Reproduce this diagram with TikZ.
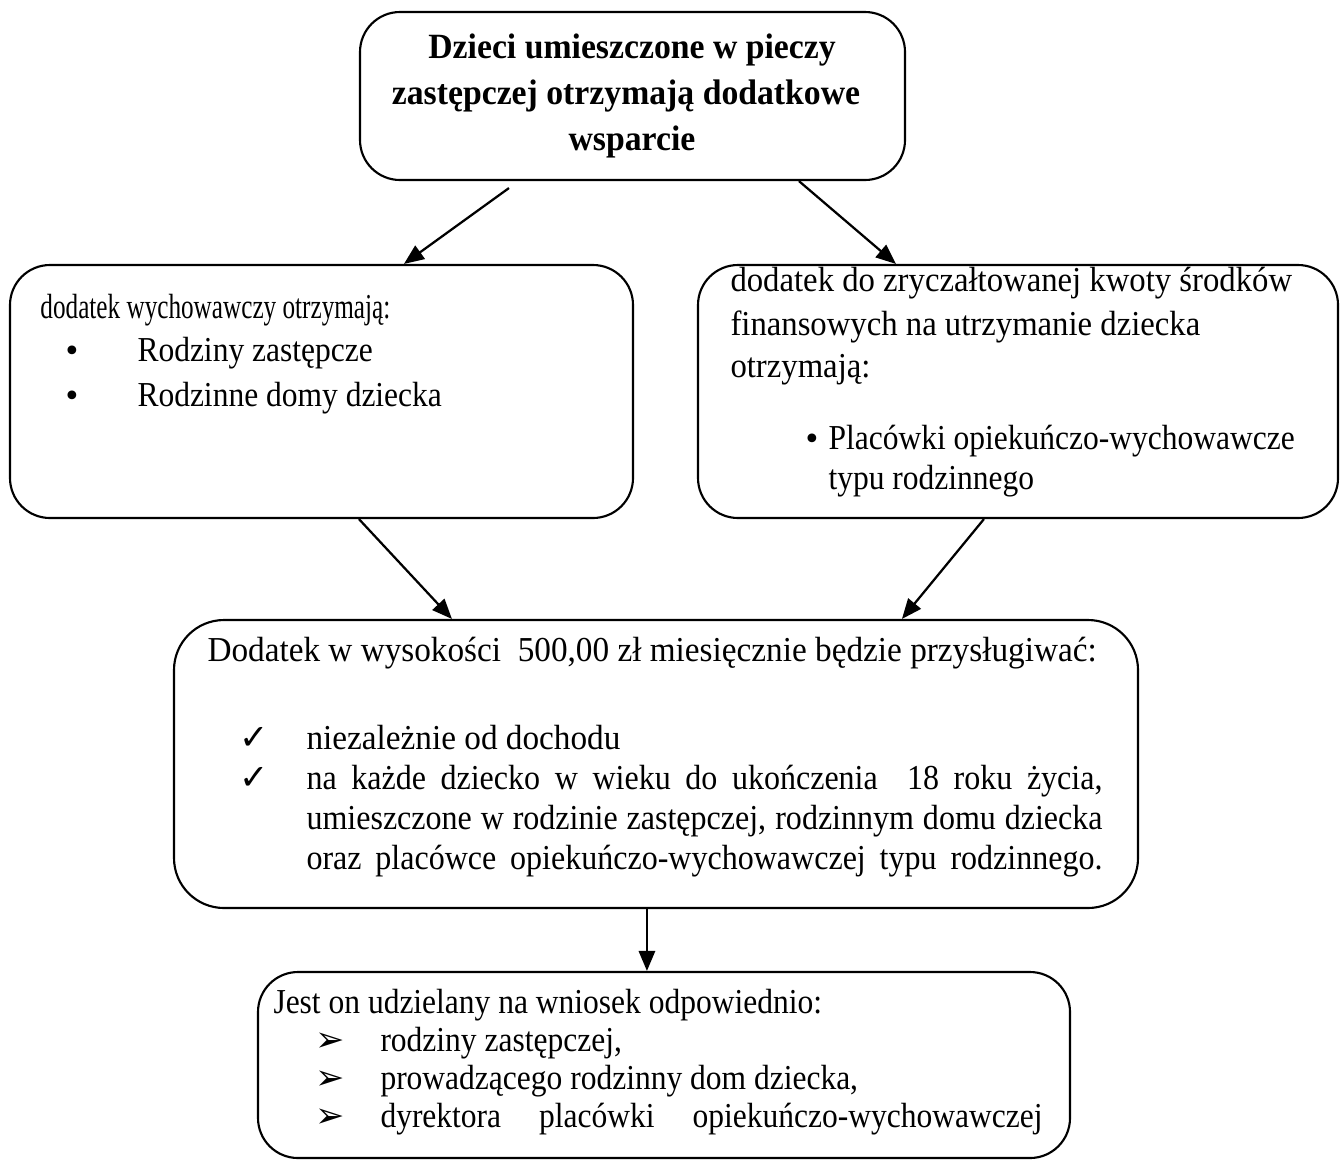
\documentclass[tikz,border=0pt]{standalone}
\usepackage{fontspec}
\setmainfont{Liberation Serif}[FakeStretch=0.90]
\newfontfamily\fLeadL{Liberation Serif}[FakeStretch=0.72]
\newfontfamily\fRight{Liberation Serif}[FakeStretch=0.935]
\newfontfamily\fMid{Liberation Serif}[FakeStretch=0.915]
\newfontfamily\fMidA{Liberation Serif}[FakeStretch=0.95]
\newfontfamily\fTop{Liberation Serif}[FakeStretch=0.95]
\newfontfamily\symfont{DejaVu Sans}
\usetikzlibrary{arrows.meta,fit,calc}
\begin{document}
\begin{tikzpicture}[x=0.4pt,y=-0.4pt,
  box/.style={draw, line width=0.85pt, rounded corners=16pt, inner sep=0pt},
  txt/.style={anchor=base west, inner sep=0pt, font=\fontsize{14}{16}\selectfont},
  rtxt/.style={txt, font=\fontsize{14}{16}\selectfont\fRight},
  mtxt/.style={txt, font=\fontsize{14}{16}\selectfont\fMid},
  matxt/.style={txt, font=\fontsize{14}{16}\selectfont\fMidA},
  btxt/.style={anchor=base, inner sep=0pt, font=\fontsize{14.2}{16}\selectfont\fTop\bfseries},
  sym/.style={anchor=base, inner sep=0pt, font=\fontsize{12}{14}\selectfont\symfont},
  chk/.style={anchor=base, inner sep=0pt, font=\fontsize{14}{16}\selectfont\symfont},
  arr/.style={-{Triangle[length=8pt,width=6.5pt]}, line width=0.9pt},
]
\useasboundingbox (0,0) rectangle (1344,1160);

% boxes
\node[box, fit={(360,12) (905,180)}] (top) {};
\node[box, fit={(10,265) (633,518)}] (left) {};
\node[box, fit={(698,265) (1338,518)}] (right) {};
\node[box, rounded corners=20pt, fit={(174,620) (1138,908)}] (mid) {};
\node[box, fit={(258,972) (1070,1158)}] (bot) {};

% top text
\node[btxt] (t1) at (632,58) {Dzieci umieszczone w pieczy};
\node[btxt] (t2) at (626,104) {zastępczej otrzymają dodatkowe};
\node[btxt] (t3) at (632,150) {wsparcie};

% left text
\node[txt, font=\fontsize{14}{16}\selectfont\fLeadL] (l1) at (40,318) {dodatek wychowawczy otrzymają:};
\node[sym] (lb1) at (72,361) {•};
\node[txt] (l2) at (137,361) {Rodziny zastępcze};
\node[sym] (lb2) at (72,406) {•};
\node[txt] (l3) at (137,406) {Rodzinne domy dziecka};

% right text
\node[rtxt] (r1) at (730,291) {dodatek do zryczałtowanej kwoty środków};
\node[rtxt] (r2) at (730,335) {finansowych na utrzymanie dziecka};
\node[rtxt] (r3) at (730,377) {otrzymają:};
\node[sym] (rb1) at (812,449) {•};
\node[txt] (r4) at (828,449) {Placówki opiekuńczo-wychowawcze};
\node[txt] (r5) at (828,489) {typu rodzinnego};

% middle text
\node[matxt] (m1) at (207,661) {Dodatek w wysokości\ \ 500,00 zł miesięcznie będzie przysługiwać:};
\node[chk] (mc1) at (254,749) {✓};
\node[matxt] (m2) at (306,749) {niezależnie od dochodu};
\node[chk] (mc2) at (254,789) {✓};
\node[mtxt] (m3) at (306,789) {\makebox[318.4pt][s]{na każde dziecko w wieku do ukończenia\ \ 18 roku życia,}};
\node[mtxt] (m4) at (306,829) {\makebox[318.4pt][s]{umieszczone w rodzinie zastępczej, rodzinnym domu dziecka}};
\node[mtxt] (m5) at (306,869) {\makebox[318.4pt][s]{oraz placówce opiekuńczo-wychowawczej typu rodzinnego.}};

% bottom text
\node[txt] (b1) at (273,1013) {Jest on udzielany na wniosek odpowiednio:};
\node[chk] (bb1) at (330,1051) {➢};
\node[txt] (b2) at (380,1051) {rodziny zastępczej,};
\node[chk] (bb2) at (330,1089) {➢};
\node[txt] (b3) at (380,1089) {prowadzącego rodzinny dom dziecka,};
\node[chk] (bb3) at (330,1127) {➢};
\node[txt] (b4) at (380,1127) {\makebox[264.8pt][s]{dyrektora placówki opiekuńczo-wychowawczej}};

% arrows
\draw[arr] ($(top.south west)+(150,7)$) -- ($(left.north west)+(395,0)$);
\draw[arr] ($(top.south west)+(440,0)$) -- ($(right.north west)+(199,0)$);
\draw[arr] ($(left.south west)+(350,0)$) -- ($(mid.north west)+(279,0)$);
\draw[arr] ($(right.south west)+(287,0)$) -- ($(mid.north west)+(729,0)$);
\draw[arr] ($(mid.south west)+(474,0)$) -- ($(bot.north west)+(390,0)$);
\end{tikzpicture}
\end{document}
